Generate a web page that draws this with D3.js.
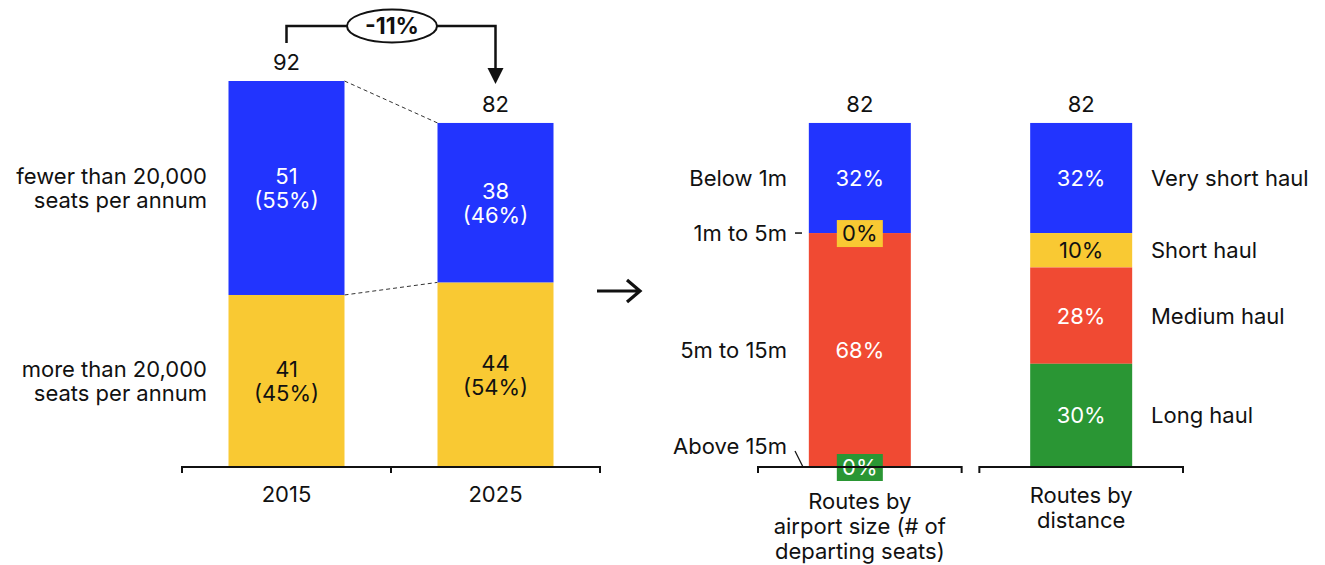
<!DOCTYPE html>
<html>
<head>
<meta charset="utf-8">
<script src="https://cdn.jsdelivr.net/npm/d3@7"></script>
<style>
  body { margin: 0; background: #fff; }
  text { font-family: Inter, "Noto Sans", sans-serif; fill: #111; font-size: 22px; }
</style>
</head>
<body>
<div id="chart"></div>
<script>
// left panel: routes by year
var years = ["2015", "2025"];
var largeRoutes = [41, 44];   // more than 20,000 seats
var smallRoutes = [51, 38];   // fewer than 20,000 seats
var largeShare = ["45%", "54%"];
var smallShare = ["55%", "46%"];
var changeLabel = "-11%";

// right panel: 2025 split, percent of routes
var splitCats = ["Routes by airport size (# of departing seats)", "Routes by distance"];
var sizeNames = ["Below 1m", "1m to 5m", "5m to 15m", "Above 15m"];
var sizeShare = [32, 0, 68, 0];
var distNames = ["Very short haul", "Short haul", "Medium haul", "Long haul"];
var distShare = [32, 10, 28, 30];

var colors = ["#2234fe", "#f9c933", "#f04a33", "#2a9634"];

var W = 1325, H = 565;
var svg = d3.select("#chart").append("svg")
    .attr("width", W).attr("height", H);

var base = 467;
var y = d3.scaleLinear().domain([0, 92]).range([base, 81]);

// ---- left panel
var x1 = d3.scaleBand().domain(years).range([182, 600]);
var bw1 = 116;
var totals = years.map(function(d, i) { return largeRoutes[i] + smallRoutes[i]; });

function bracketAxis(x0, x1, ticks) {
  var g = svg.append("g").attr("stroke", "#111").attr("stroke-width", 2).attr("fill", "none");
  g.append("path").attr("d", "M" + x0 + "," + (base + 6) + "V" + base + "H" + x1 + "V" + (base + 6));
  (ticks || []).forEach(function(t) {
    g.append("line").attr("x1", t).attr("x2", t).attr("y1", base).attr("y2", base + 6);
  });
}

function label(x, yy, t, anchor, color, weight) {
  return svg.append("text").attr("x", x).attr("y", yy)
    .attr("text-anchor", anchor || "middle").attr("dominant-baseline", "central")
    .style("fill", color || "#111").style("font-weight", weight || null).text(t);
}

// connector dashes between bars
svg.append("g").attr("stroke", "#333").attr("stroke-dasharray", "4,3").attr("stroke-width", 1)
  .selectAll("line").data([totals, largeRoutes]).enter().append("line")
    .attr("x1", x1("2015") + (x1.bandwidth() + bw1) / 2)
    .attr("x2", x1("2025") + (x1.bandwidth() - bw1) / 2)
    .attr("y1", function(d) { return y(d[0]); })
    .attr("y2", function(d) { return y(d[1]); });

years.forEach(function(yr, i) {
  var bx = x1(yr) + (x1.bandwidth() - bw1) / 2;
  var cx = x1(yr) + x1.bandwidth() / 2;
  svg.append("rect").attr("x", bx).attr("width", bw1)
    .attr("y", y(largeRoutes[i])).attr("height", base - y(largeRoutes[i]))
    .attr("fill", colors[1]);
  svg.append("rect").attr("x", bx).attr("width", bw1)
    .attr("y", y(totals[i])).attr("height", y(largeRoutes[i]) - y(totals[i]))
    .attr("fill", colors[0]);
  // values in segments
  var segs = [
    { mid: (y(largeRoutes[i]) + base) / 2, lines: [largeRoutes[i], "(" + largeShare[i] + ")"], c: "#111" },
    { mid: (y(totals[i]) + y(largeRoutes[i])) / 2, lines: [smallRoutes[i], "(" + smallShare[i] + ")"], c: "#fff" }
  ];
  segs.forEach(function(s) {
    s.lines.forEach(function(t, k) {
      label(cx, s.mid - 12 + k * 24, t, "middle", s.c);
    });
  });
  label(cx, y(totals[i]) - 19, totals[i]);
  label(cx, 494, yr);
});
bracketAxis(182, 600, [x1("2025")]);

// series labels on the left
[["fewer than 20,000", "seats per annum"], ["more than 20,000", "seats per annum"]].forEach(function(lines, j) {
  var mid = j === 0 ? (y(totals[0]) + y(largeRoutes[0])) / 2 : (y(largeRoutes[0]) + base) / 2;
  lines.forEach(function(t, k) {
    label(207, mid - 12 + k * 24, t, "end");
  });
});

// change bracket with -11%
var xa = x1("2015") + x1.bandwidth() / 2, xb = x1("2025") + x1.bandwidth() / 2;
svg.append("path")
  .attr("d", "M" + xa + ",43V26H" + xb + "V70")
  .attr("fill", "none").attr("stroke", "#111").attr("stroke-width", 2.5);
svg.append("path")
  .attr("d", "M" + (xb - 8) + ",68L" + (xb + 8) + ",68L" + xb + ",84Z")
  .attr("fill", "#111");
svg.append("ellipse").attr("cx", 392).attr("cy", 26).attr("rx", 45).attr("ry", 16.5)
  .attr("fill", "#fff").attr("stroke", "#111").attr("stroke-width", 2);
label(392, 26, changeLabel, "middle", "#111", "bold").style("font-size", "23px");

// middle arrow
svg.append("path").attr("d", "M597,291H639M627,280L640,291L627,302")
  .attr("fill", "none").attr("stroke", "#111").attr("stroke-width", 3.2);

// ---- right panel
var x2 = d3.scaleBand().domain(splitCats).range([758, 1183]).paddingInner(0.08);
var bw2 = 102;
var total = totals[1];
var yp = function(p) { return y(p * total / 100); };

[sizeShare, distShare].forEach(function(shares, i) {
  var cat = splitCats[i];
  var bx = x2(cat) + (x2.bandwidth() - bw2) / 2;
  var cx = x2(cat) + x2.bandwidth() / 2;
  var stack = d3.cumsum(shares.slice().reverse()).reverse(); // top of each segment, from top
  var segs = shares.map(function(s, k) {
    var top = stack[k], bot = stack[k] - s;
    return { s: s, y0: yp(top), y1: yp(bot), c: colors[k], k: k };
  });
  segs.forEach(function(d) {
    svg.append("rect").attr("x", bx).attr("width", bw2)
      .attr("y", d.y0).attr("height", d.y1 - d.y0).attr("fill", d.c);
  });
  segs.forEach(function(d) {
    var mid = (d.y0 + d.y1) / 2;
    var tc = d.k === 1 ? "#111" : "#fff";
    if (d.s === 0) {
      svg.append("rect").attr("x", cx - 23).attr("y", mid - 13).attr("width", 46).attr("height", 27)
        .attr("fill", d.c);
    }
    label(cx, mid, d.s + "%", "middle", tc);
    // segment names
    if (i === 0) {
      label(787, d.k === 3 ? mid - 21 : mid, sizeNames[d.k], "end");
    } else {
      label(1151, mid, distNames[d.k], "start");
    }
  });
  label(cx, y(total) - 19, total);
  bracketAxis(x2(cat), x2(cat) + x2.bandwidth());
});

// leader marks for the thin segments
svg.append("line").attr("x1", 795).attr("x2", 802).attr("y1", yp(68)).attr("y2", yp(68))
  .attr("stroke", "#111").attr("stroke-width", 1.5);
svg.append("line").attr("x1", 795).attr("x2", 803).attr("y1", 451).attr("y2", base)
  .attr("stroke", "#111").attr("stroke-width", 1.2);

// category labels under right bars
var catLines = [["Routes by", "airport size (# of", "departing seats)"], ["Routes by", "distance"]];
catLines.forEach(function(lines, i) {
  var cx = x2(splitCats[i]) + x2.bandwidth() / 2;
  var y0 = i === 0 ? 501 : 495;
  lines.forEach(function(t, k) {
    label(cx, y0 + k * 25, t);
  });
});
</script>
</body>
</html>
